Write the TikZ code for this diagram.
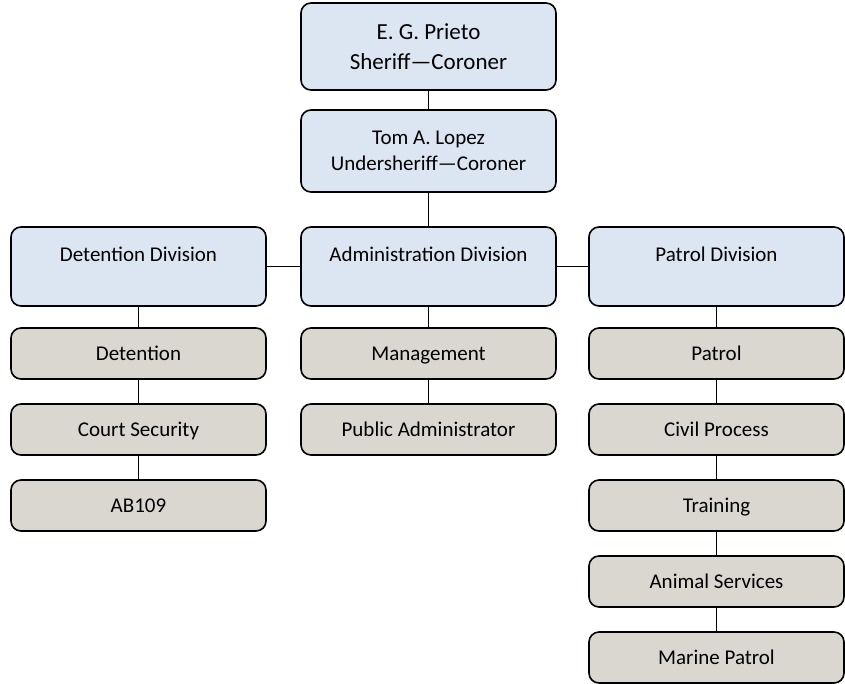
\documentclass[tikz,border=0pt]{standalone}
\usepackage{fontspec}
\setmainfont{Carlito}
\usetikzlibrary{positioning}
\definecolor{headblue}{HTML}{DCE6F2}
\definecolor{unitgray}{HTML}{D9D7D0}

\begin{document}
\begin{tikzpicture}[
    x=1pt, y=-1pt,
    box/.style ={
        draw=black,
        line width=1.6pt,
        rounded corners=10pt,
        minimum width=255pt,
        align=center,
        inner sep=0pt,
        outer sep=0pt
    },
    head/.style ={
        box,
        fill=headblue,
        font=\fontsize{21}{26}\selectfont
    },
    div/.style ={
        head,
        minimum height=79pt,
        text height=12pt,
        text depth=23pt
    },
    unit/.style ={
        box,
        fill=unitgray,
        minimum height=51pt,
        text height=17pt,
        text depth=3pt,
        font=\fontsize{21}{26}\selectfont
    },
    link/.style ={
        line width=1.5pt
    }
    ]

    \useasboundingbox (0,0) rectangle (845,683);

    \node[head, minimum height=87pt, font=\fontsize{23}{30}\selectfont] (sheriff) at (428.5,46.5) {E. G. Prieto\\Sheriff---Coroner};
    \node[head, minimum height=82pt] (under) [below=20pt of sheriff] {Tom A. Lopez\\Undersheriff---Coroner};

    % divisions
    \node[div] (admin) [below=35pt of under] {Administration Division};
    \node[div] (detdiv) [left=35pt of admin] {Detention Division};
    \node[div] (patdiv) [right=33pt of admin] {Patrol Division};

    % detention units
    \node[unit] (det) [below=22pt of detdiv] {Detention};
    \node[unit] (court) [below=25pt of det] {Court Security};
    \node[unit] (ab) [below=25pt of court] {AB109};

    % administration units
    \node[unit] (mgmt) [below=22pt of admin] {Management};
    \node[unit] (pubadm) [below=25pt of mgmt] {Public Administrator};

    % patrol units
    \node[unit] (patrol) [below=22pt of patdiv] {Patrol};
    \node[unit] (civil) [below=25pt of patrol] {Civil Process};
    \node[unit] (training) [below=25pt of civil] {Training};
    \node[unit] (animal) [below=25pt of training] {Animal Services};
    \node[unit] (marine) [below=25pt of animal] {Marine Patrol};

    \foreach \src/ \dst in {sheriff/under, under/admin, detdiv/admin, admin/patdiv,
        detdiv/det, det/court, court/ab, admin/mgmt, mgmt/pubadm,
        patdiv/patrol, patrol/civil, civil/training, training/animal, animal/marine}
        \draw[link] (\src) -- (\dst);
\end{tikzpicture}
\end{document}
